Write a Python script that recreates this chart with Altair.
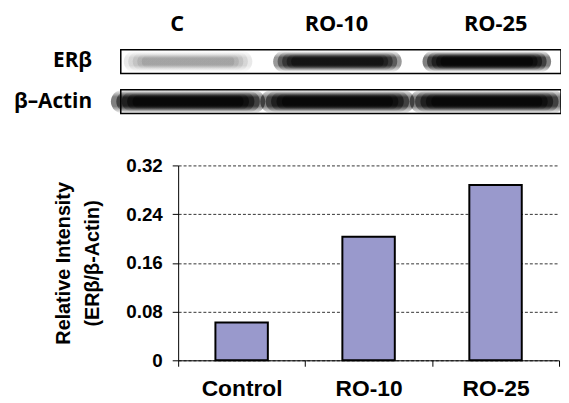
import altair as alt
import pandas as pd

# ---- data ----
categories = ["Control", "RO-10", "RO-25"]
values = [0.062, 0.203, 0.288]
y_ticks = [0, 0.08, 0.16, 0.24, 0.32]

lanes = ["C", "RO-10", "RO-25"]
row_names = ["header", "ERβ", "β–Actin"]
blot_rows = ["ERβ", "β–Actin"]
erb_intensity = [0.17, 0.8, 1.0]
actin_intensity = [1.0, 1.0, 1.0]

bars_df = pd.DataFrame({"cat": categories, "value": values})
erb_df = pd.DataFrame({"lane": lanes, "row": "ERβ", "intensity": erb_intensity})
actin_df = pd.DataFrame({"lane": lanes, "row": "β–Actin", "intensity": actin_intensity})
head_df = pd.DataFrame({"lane": lanes, "row": "header"})
rows_df = pd.DataFrame({"row": blot_rows})

W, H = 385, 197

band_lane_scale = alt.Scale(type="band", domain=lanes, range=[-65.5, 387.5], paddingInner=0, paddingOuter=0)
head_lane_scale = alt.Scale(type="band", domain=lanes, range=[-81.5, 401.5], paddingInner=0, paddingOuter=0)
row_scale = alt.Scale(type="band", domain=row_names, range=[-157.5, -52.5], paddingInner=0.407, paddingOuter=0)

grad = {
    "gradient": "linear", "x1": 0, "y1": 0, "x2": 0, "y2": 1,
    "stops": [
        {"offset": 0, "color": "rgba(0,0,0,0)"},
        {"offset": 0.3, "color": "#000000"},
        {"offset": 0.7, "color": "#000000"},
        {"offset": 1, "color": "rgba(0,0,0,0)"},
    ],
}

bars = alt.Chart(bars_df).mark_bar(size=53, fill="#9999CC", stroke="black", strokeWidth=2).encode(
    x=alt.X("cat:N", sort=categories,
            scale=alt.Scale(paddingInner=0, paddingOuter=0),
            axis=alt.Axis(title=None, labelAngle=0, labelFont="Liberation Sans", labelFontWeight="bold",
                          labelFontSize=23, labelColor="black", tickBand="extent", tickSize=6,
                          tickColor="black", domainColor="black", labelPadding=12, grid=False)),
    y=alt.Y("value:Q", scale=alt.Scale(domain=[0, 0.32], nice=False),
            axis=alt.Axis(values=y_ticks,
                          labelExpr="datum.value == 0 ? '0' : format(datum.value, '.2f')",
                          labelFont="Liberation Sans", labelFontWeight="bold", labelFontSize=19,
                          labelColor="black", tickSize=6, tickColor="black", labelPadding=10,
                          domainColor="black", grid=True, gridDash=[3, 2], gridColor="#333333",
                          title=["Relative Intensity", "(ERβ/β-Actin)"], titleFont="Liberation Sans",
                          titleFontWeight="bold", titleFontSize=20, titleLineHeight=29,
                          titleColor="black", titlePadding=24)),
)

boxes = alt.Chart(rows_df).mark_rect(fillOpacity=0, stroke="black", strokeWidth=1.5).encode(
    x=alt.value(-58), x2=alt.value(387),
    y=alt.Y("row:N", scale=row_scale, axis=None),
)


def band_layers(df, bw, bh):
    layers = []
    steps = [(1.0, 1.0), (0.93, 0.9), (0.86, 0.8), (0.79, 0.7), (0.72, 0.6)]
    for wf, hf in steps:
        w = bw * wf
        h = bh * hf
        layers.append(
            alt.Chart(df).transform_calculate(op="datum.intensity * 0.5").mark_rect(
                width=w, height=h, cornerRadius=h / 2, fill=grad
            ).encode(
                x=alt.X("lane:N", scale=band_lane_scale, axis=None),
                y=alt.Y("row:N", scale=row_scale, axis=None),
                opacity=alt.Opacity("op:Q", scale=None, legend=None),
            )
        )
    return layers


erb_layers = band_layers(erb_df, 130, 22)
actin_layers = band_layers(actin_df, 156, 24)

head_text = alt.Chart(head_df).mark_text(font="Open Sans", fontWeight="bold", fontSize=22,
                                         color="black", baseline="middle", dy=3).encode(
    x=alt.X("lane:N", scale=head_lane_scale, axis=None),
    y=alt.Y("row:N", scale=row_scale, axis=None),
    text="lane:N",
)

row_text = alt.Chart(rows_df).mark_text(font="Open Sans", fontWeight="bold", fontSize=21,
                                        color="black", align="right", baseline="middle").encode(
    x=alt.value(-87),
    y=alt.Y("row:N", scale=row_scale, axis=None),
    text="row:N",
)

chart = alt.layer(bars, boxes, *erb_layers, *actin_layers, head_text, row_text).resolve_scale(
    x="independent", y="independent"
).properties(
    width=W, height=H,
    padding={"left": 172, "top": 157, "right": 2, "bottom": 38},
    autosize=alt.AutoSizeParams(type="none"),
    background="white",
).configure_view(stroke="transparent")

chart.save("out.html", embed_options={"renderer": "svg", "actions": False})
